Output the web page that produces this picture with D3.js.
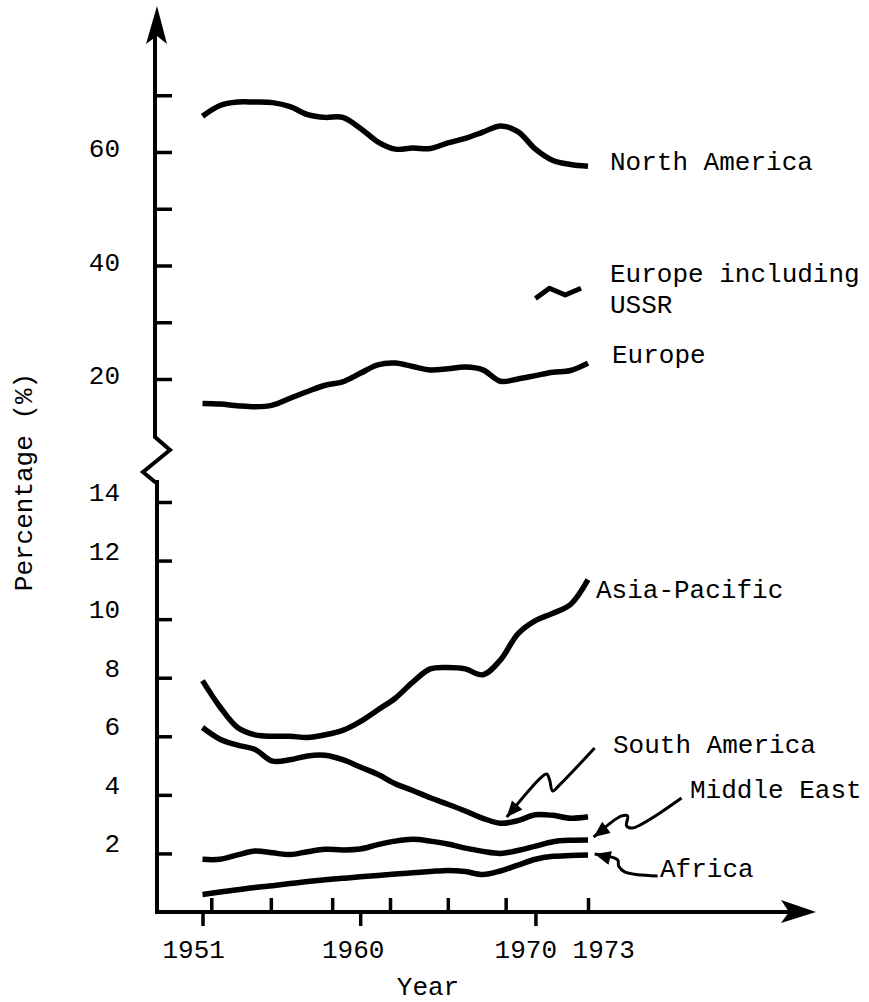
<!DOCTYPE html>
<html>
<head>
<meta charset="utf-8">
<script src="https://cdn.jsdelivr.net/npm/d3@7"></script>
<style>
  body { margin: 0; background: #fff; }
  text { font-family: "Liberation Mono", "Courier New", monospace; font-size: 26px; fill: #000; }
</style>
</head>
<body>
<div id="chart-area"></div>
<script>
// share of the total (%) by region
var years = [1951, 1952, 1953, 1954, 1955, 1956, 1957, 1958, 1959, 1960, 1961, 1962,
             1963, 1964, 1965, 1966, 1967, 1968, 1969, 1970, 1971, 1972, 1973];

var northAmerica = [66.3, 68.2, 68.8, 68.8, 68.7, 68.0, 66.6, 66.1, 66.1, 64.2, 61.8, 60.5,
                    60.7, 60.6, 61.6, 62.4, 63.5, 64.6, 63.6, 60.5, 58.5, 57.8, 57.5];
var europe       = [15.7, 15.6, 15.3, 15.1, 15.4, 16.6, 17.8, 18.9, 19.5, 21.0, 22.5, 22.8,
                    22.2, 21.6, 21.8, 22.1, 21.6, 19.6, 20.0, 20.6, 21.2, 21.5, 22.8];
var asiaPacific  = [7.9, 7.0, 6.3, 6.05, 6.0, 6.0, 5.96, 6.05, 6.2, 6.5, 6.9, 7.3,
                    7.85, 8.3, 8.35, 8.3, 8.1, 8.6, 9.5, 9.95, 10.2, 10.5, 11.35];
var southAmerica = [6.3, 5.9, 5.7, 5.55, 5.15, 5.2, 5.33, 5.35, 5.2, 4.95, 4.7, 4.38,
                    4.15, 3.9, 3.68, 3.45, 3.2, 3.03, 3.12, 3.32, 3.3, 3.2, 3.25];
var middleEast   = [1.8, 1.8, 1.95, 2.08, 2.02, 1.96, 2.06, 2.14, 2.12, 2.15, 2.3, 2.42,
                    2.48, 2.42, 2.32, 2.18, 2.07, 2.0, 2.1, 2.25, 2.4, 2.45, 2.46];
var africa       = [0.6, 0.68, 0.76, 0.84, 0.9, 0.97, 1.04, 1.1, 1.15, 1.2, 1.25, 1.3,
                    1.34, 1.38, 1.42, 1.38, 1.28, 1.4, 1.6, 1.8, 1.9, 1.93, 1.95];

// only a short stretch is drawn for Europe including USSR
var europeUssrYears = [1970, 1970.8, 1971.7, 1972.6];
var europeUssr      = [34.2, 36.0, 34.8, 36.0];

// axis ticks and labels
var upperTicks  = [20, 30, 40, 50, 60, 70];
var upperLabels = [20, 40, 60];
var lowerTicks  = [2, 4, 6, 8, 10, 12, 14];
var xUpperTicks = [1951.5, 1954.9, 1958.4, 1961.7, 1965.0, 1968.3, 1973];
var xLowerTicks = [1951, 1960, 1970];
var xLabels     = ["1951", "1960", "1970", "1973"];
var xLabelYears = [1950.5, 1959.6, 1969.45, 1973.9];

var w = 869, h = 1002;

var svg = d3.select("#chart-area").append("svg")
    .attr("width", w)
    .attr("height", h);

svg.append("rect").attr("width", w).attr("height", h).attr("fill", "#fff");

var x = d3.scaleLinear().domain([1951, 1973]).range([202.5, 588]);
// broken y axis: upper part for the large shares, lower part for the small ones
var yHi = d3.scaleLinear().domain([20, 60]).range([379, 152]);
var yLo = d3.scaleLinear().domain([0, 14]).range([912, 502]);

var axisX = 157, axisY = 912;

// ---- axes ----
var axes = svg.append("g").attr("stroke", "#000").attr("fill", "none");

axes.append("path")
    .attr("stroke-width", 4)
    .attr("d", "M" + axisX + "," + axisY + " V482 L" + (axisX - 2) + ",482 L" + (axisX - 14) + ",472 L" +
               (axisX + 13) + ",450 L" + (axisX - 2) + ",437 V36");
axes.append("path")
    .attr("stroke-width", 4)
    .attr("d", "M" + (axisX - 2) + "," + axisY + " H790");

// arrow heads
svg.append("path").attr("fill", "#000")
    .attr("d", "M" + axisX + ",6 L" + (axisX + 10) + ",44 L" + axisX + ",36 L" + (axisX - 11) + ",44 Z");
svg.append("path").attr("fill", "#000")
    .attr("d", "M816," + axisY + " L781," + (axisY - 12) + " L789," + axisY + " L781," + (axisY + 11) + " Z");

function tidy(g) {
    g.select(".domain").remove();
    g.selectAll("line").attr("stroke", "#000").attr("stroke-width", 3.5);
}

svg.append("g").attr("transform", "translate(" + axisX + ",0)")
    .call(d3.axisRight(yHi).tickValues(upperTicks).tickSize(15).tickFormat(""))
    .call(tidy);
svg.append("g").attr("transform", "translate(" + axisX + ",0)")
    .call(d3.axisRight(yLo).tickValues(lowerTicks).tickSize(15).tickFormat(""))
    .call(tidy);
svg.append("g").attr("transform", "translate(0," + axisY + ")")
    .call(d3.axisTop(x).tickValues(xUpperTicks).tickSize(14).tickFormat(""))
    .call(tidy);
svg.append("g").attr("transform", "translate(0," + axisY + ")")
    .call(d3.axisBottom(x).tickValues(xLowerTicks).tickSize(14).tickFormat(""))
    .call(tidy);

// tick labels
svg.selectAll(".ylab-hi").data(upperLabels).enter().append("text")
    .attr("class", "ylab-hi")
    .attr("x", 120)
    .attr("y", function(d) { return yHi(d) + 5; })
    .attr("text-anchor", "end")
    .text(function(d) { return d; });

svg.selectAll(".ylab-lo").data(lowerTicks).enter().append("text")
    .attr("class", "ylab-lo")
    .attr("x", 120)
    .attr("y", function(d) { return yLo(d) - 1; })
    .attr("text-anchor", "end")
    .text(function(d) { return d; });

svg.selectAll(".xlab").data(xLabels).enter().append("text")
    .attr("class", "xlab")
    .attr("x", function(d, i) { return x(xLabelYears[i]); })
    .attr("y", 958)
    .attr("text-anchor", "middle")
    .text(function(d) { return d; });

svg.append("text")
    .attr("x", 428)
    .attr("y", 995)
    .attr("text-anchor", "middle")
    .text("Year");

svg.append("text")
    .attr("transform", "translate(32,482) rotate(-90)")
    .attr("text-anchor", "middle")
    .text("Percentage (%)");

// ---- series ----
var series = [
    {name: "North America", values: northAmerica, y: yHi},
    {name: "Europe", values: europe, y: yHi},
    {name: "Asia-Pacific", values: asiaPacific, y: yLo},
    {name: "South America", values: southAmerica, y: yLo},
    {name: "Middle East", values: middleEast, y: yLo},
    {name: "Africa", values: africa, y: yLo}
];

series.forEach(function(s) {
    var line = d3.line()
        .x(function(d, i) { return x(years[i]); })
        .y(function(d) { return s.y(d); })
        .curve(d3.curveCatmullRom.alpha(0.5));
    svg.append("path")
        .datum(s.values)
        .attr("fill", "none")
        .attr("stroke", "#000")
        .attr("stroke-width", 5.5)
        .attr("stroke-linejoin", "round")
        .attr("d", line);
});

svg.append("path")
    .datum(europeUssr)
    .attr("fill", "none")
    .attr("stroke", "#000")
    .attr("stroke-width", 5)
    .attr("stroke-linejoin", "round")
    .attr("d", d3.line()
        .x(function(d, i) { return x(europeUssrYears[i]); })
        .y(function(d) { return yHi(d); }));

// ---- labels ----
var labels = [
    {text: "North America", x: 610, y: 170},
    {text: "Europe including", x: 610, y: 282},
    {text: "USSR", x: 610, y: 313},
    {text: "Europe", x: 612, y: 363},
    {text: "Asia-Pacific", x: 596, y: 598},
    {text: "South America", x: 613, y: 753},
    {text: "Middle East", x: 690, y: 798},
    {text: "Africa", x: 660, y: 877}
];

svg.selectAll(".lab").data(labels).enter().append("text")
    .attr("class", "lab")
    .attr("x", function(d) { return d.x; })
    .attr("y", function(d) { return d.y; })
    .text(function(d) { return d.text; });

// squiggly pointer arrows from the labels to the lines (year, value on the lower scale)
var pointers = [
    [[1973.38, 5.6], [1971.38, 4.34], [1970.98, 4.13], [1970.81, 4.51], [1970.64, 4.71], [1970.3, 4.58], [1968.36, 3.24]],
    [[1978.34, 3.89], [1975.54, 2.87], [1975.2, 2.94], [1975.26, 3.28], [1974.92, 3.28], [1973.32, 2.56]],
    [[1976.97, 1.23], [1975.09, 1.37], [1974.75, 1.57], [1974.69, 1.78], [1973.38, 1.98]]
];

var pointerLine = d3.line()
    .x(function(d) { return x(d[0]); })
    .y(function(d) { return yLo(d[1]); })
    .curve(d3.curveCatmullRom.alpha(0.5));

pointers.forEach(function(p) {
    svg.append("path")
        .datum(p)
        .attr("fill", "none")
        .attr("stroke", "#000")
        .attr("stroke-width", 3)
        .attr("d", pointerLine);

    var a = p[p.length - 1], b = p[p.length - 2];
    var tx = x(a[0]), ty = yLo(a[1]);
    var ang = Math.atan2(ty - yLo(b[1]), tx - x(b[0]));
    var len = 16, half = 7;
    var bx = tx - len * Math.cos(ang), by = ty - len * Math.sin(ang);
    svg.append("path")
        .attr("fill", "#000")
        .attr("d", "M" + tx + "," + ty +
            " L" + (bx + half * Math.sin(ang)) + "," + (by - half * Math.cos(ang)) +
            " L" + (bx - half * Math.sin(ang)) + "," + (by + half * Math.cos(ang)) + " Z");
});
</script>
</body>
</html>
